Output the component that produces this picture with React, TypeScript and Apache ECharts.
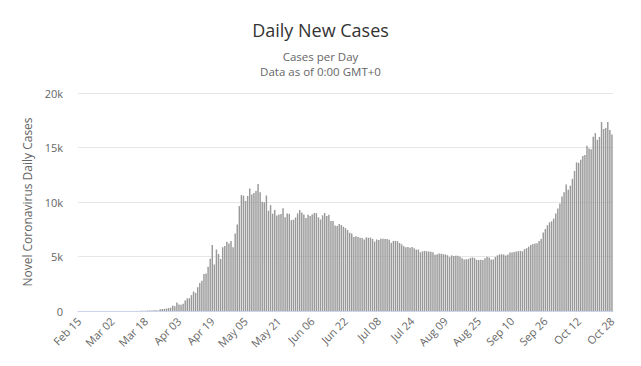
import React, { useEffect, useRef } from "react";
import * as echarts from "echarts";

const startDate = { year: 2020, month: 1, day: 15 }; // Feb 15 (month 0-based)
const monthNames = ["Jan", "Feb", "Mar", "Apr", "May", "Jun", "Jul", "Aug", "Sep", "Oct", "Nov", "Dec"];

const febCases = [0, 0, 0, 0, 0, 0, 0, 0, 0, 0, 0, 0, 0, 0, 0];
const marCases = [0, 1, 0, 0, 1, 6, 0, 3, 0, 3, 8, 6, 11, 14, 4, 30, 21, 33, 52, 54, 53, 61, 71, 57, 163, 182, 196, 228, 270, 302, 501];
const aprCases = [440, 771, 601, 582, 658, 954, 1154, 1175, 1459, 1786, 1667, 2186, 2558, 2774, 3388, 3448, 4070, 4785, 6060, 4268, 5642, 5236, 4774, 5849, 5966, 6361, 6198, 6411, 5841, 7099];
const mayCases = [7933, 9623, 10633, 10581, 10102, 10559, 11231, 10699, 10817, 11012, 11656, 10899, 10028, 9974, 10598, 9200, 9709, 8926, 9263, 8764, 8849, 8894, 9434, 8599, 8946, 8915, 8338, 8371, 8572, 8952, 9268];
const junCases = [9035, 8863, 8536, 8831, 8726, 8855, 8984, 8985, 8595, 8404, 8779, 8987, 8706, 8835, 8246, 8248, 7843, 7790, 7972, 7889, 7728, 7600, 7425, 7176, 7113, 6800, 6852, 6791, 6719, 6693];
const julCases = [6556, 6760, 6718, 6736, 6611, 6368, 6562, 6509, 6635, 6632, 6611, 6615, 6537, 6248, 6422, 6428, 6406, 6234, 6109, 5940, 5842, 5862, 5811, 5871, 5765, 5635, 5635, 5395, 5475, 5509, 5482];
const augCases = [5462, 5427, 5394, 5159, 5204, 5267, 5241, 5212, 5189, 5118, 4945, 5102, 5057, 5065, 5061, 4969, 4839, 4718, 4748, 4767, 4870, 4921, 4852, 4696, 4676, 4711, 4676, 4829, 4980, 4897, 4729];
const sepCases = [4729, 4952, 5110, 5195, 5205, 5185, 5099, 5185, 5363, 5363, 5406, 5449, 5488, 5509, 5488, 5670, 5762, 5905, 6065, 6148, 6196, 6215, 6431, 6595, 7212, 7523, 7867, 8135, 8232, 8481];
const octCases = [8945, 9412, 9859, 10499, 10888, 11615, 11115, 11493, 12126, 12846, 13634, 13592, 13868, 14231, 14321, 15150, 14900, 14850, 15982, 16319, 15700, 15971, 17340, 16700, 16800, 17347, 16600, 16202];

const dailyCases = [
  ...febCases, ...marCases, ...aprCases, ...mayCases, ...junCases,
  ...julCases, ...augCases, ...sepCases, ...octCases,
];

const yTicks = [0, 5000, 10000, 15000, 20000];

function buildDates(n: number): string[] {
  const out: string[] = [];
  const d = new Date(Date.UTC(startDate.year, startDate.month, startDate.day));
  for (let i = 0; i < n; i++) {
    const dd = d.getUTCDate();
    out.push(monthNames[d.getUTCMonth()] + " " + (dd < 10 ? "0" + dd : String(dd)));
    d.setUTCDate(d.getUTCDate() + 1);
  }
  return out;
}

const categories = buildDates(dailyCases.length);

const FONT = "'Open Sans', 'Noto Sans', sans-serif";

export default function App() {
  const ref = useRef<HTMLDivElement>(null);
  useEffect(() => {
    if (!ref.current) return;
    const chart = echarts.init(ref.current, undefined, { renderer: "svg" });
    chart.setOption({
      animation: false,
      backgroundColor: "#ffffff",
      textStyle: { fontFamily: FONT },
      title: [
        {
          text: "Daily New Cases",
          left: "center",
          top: 20,
          padding: 0,
          textStyle: { fontSize: 18, lineHeight: 20, fontWeight: "normal", color: "#333333", fontFamily: FONT },
        },
        {
          text: "Cases per Day",
          left: "center",
          top: 50,
          padding: 0,
          textStyle: { fontSize: 11.5, lineHeight: 13, fontWeight: "normal", color: "#666666", fontFamily: FONT },
        },
        {
          text: "Data as of 0:00 GMT+0",
          left: "center",
          top: 65,
          padding: 0,
          textStyle: { fontSize: 11.5, lineHeight: 13, fontWeight: "normal", color: "#666666", fontFamily: FONT },
        },
      ],
      grid: { left: 78, right: 28, top: 93, bottom: 55, containLabel: false },
      xAxis: {
        type: "category",
        data: categories,
        boundaryGap: true,
        axisLine: { show: true, lineStyle: { color: "#ccd6eb", width: 1 } },
        axisTick: { show: false },
        axisLabel: {
          interval: 15,
          rotate: 45,
          color: "#666666",
          fontSize: 11,
          fontFamily: FONT,
          margin: 8,
        },
        splitLine: { show: false },
      },
      yAxis: {
        type: "value",
        min: yTicks[0],
        max: yTicks[yTicks.length - 1],
        interval: 5000,
        name: "Novel Coronavirus Daily Cases",
        nameLocation: "middle",
        nameGap: 44,
        nameTextStyle: { color: "#666666", fontSize: 12, fontFamily: FONT },
        axisLine: { show: false },
        axisTick: { show: false },
        axisLabel: {
          color: "#666666",
          fontSize: 11,
          fontFamily: FONT,
          margin: 15,
          formatter: (v: number) => (v === 0 ? "0" : v / 1000 + "k"),
        },
        splitLine: { show: true, lineStyle: { color: "#e6e6e6", width: 1 } },
      },
      series: [
        {
          type: "bar",
          data: dailyCases,
          itemStyle: { color: "#999999" },
          barCategoryGap: "30%",
        },
      ],
    });
    return () => chart.dispose();
  }, []);
  return (
    <div
      ref={ref}
      style={{ position: "fixed", left: 0, top: 0, width: 641, height: 366 }}
    />
  );
}
